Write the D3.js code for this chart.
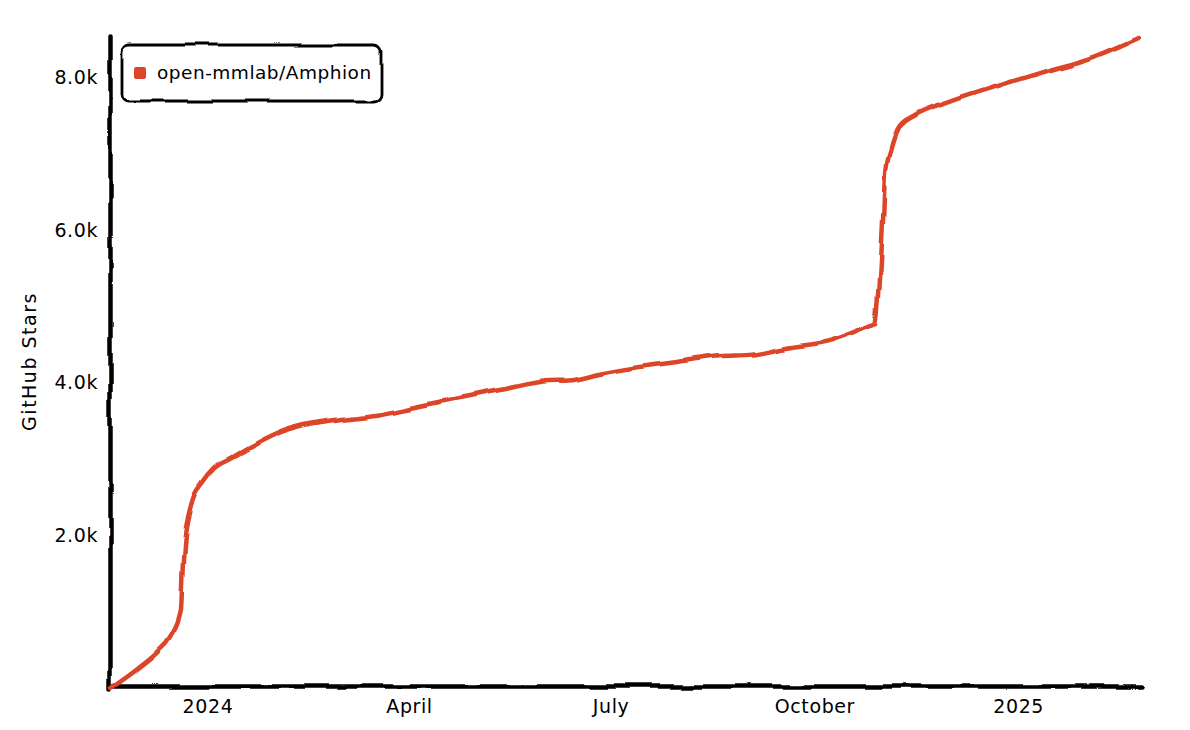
<!DOCTYPE html>
<html>
<head>
<meta charset="utf-8">
<script src="https://cdn.jsdelivr.net/npm/d3@7"></script>
<style>
  html, body { margin: 0; padding: 0; background: #fff; }
  svg { display: block; }
  text { font-family: "DejaVu Sans", sans-serif; fill: #000; }
</style>
</head>
<body>
<svg id="chart" width="1190" height="730"></svg>
<script>
// ---- data ----
const seriesName = "open-mmlab/Amphion";
const dates = [
  "2023-11-18","2023-12-01","2023-12-10","2023-12-15","2023-12-20","2023-12-21",
  "2023-12-22","2023-12-23","2023-12-25","2023-12-30","2024-01-04","2024-01-12",
  "2024-01-23","2024-02-02","2024-02-14","2024-03-05","2024-03-16","2024-04-04",
  "2024-04-19","2024-05-12","2024-06-03","2024-06-12","2024-06-26","2024-07-14",
  "2024-08-02","2024-08-19","2024-09-02","2024-09-17","2024-10-09","2024-10-18",
  "2024-10-27","2024-10-29","2024-10-30","2024-11-01","2024-11-02","2024-11-04",
  "2024-11-08","2024-11-14","2024-12-01","2024-12-20","2025-01-12","2025-02-04",
  "2025-02-24"
];
const stars = [
  0, 275, 498, 668, 1022, 1678,
  2032, 2202, 2440, 2700, 2880, 3020,
  3200, 3342, 3447, 3539, 3578, 3683,
  3775, 3906, 4024, 4030, 4116, 4208,
  4286, 4350, 4370, 4457, 4561, 4653,
  4758, 4784, 5086, 6134, 6790, 7052,
  7353, 7484, 7681, 7865, 8074, 8271,
  8520
];
const yTickValues = [2000, 4000, 6000, 8000];
const yTickLabels = ["2.0k", "4.0k", "6.0k", "8.0k"];
const xTickDates = ["2024-01-01","2024-04-01","2024-07-01","2024-10-01","2025-01-01"];
const xTickLabels = ["2024", "April", "July", "October", "2025"];
const yLabel = "GitHub Stars";
const lineColor = "#dd4528";

// ---- layout ----
const svg = d3.select("#chart");
const parse = d3.utcParse("%Y-%m-%d");
const data = dates.map((d, i) => ({ date: parse(d), value: stars[i] }));

const mLeft = 110, mRight = 1140, mBottom = 688, mTop = 35;

const x = d3.scaleUtc()
  .domain([parse("2023-11-18"), parse("2025-02-25")])
  .range([mLeft, mRight]);
const y = d3.scaleLinear()
  .domain([0, 8560])
  .range([mBottom, mTop]);

// xkcd-style filter
const defs = svg.append("defs");
const f = defs.append("filter").attr("id", "xkcdify")
  .attr("filterUnits", "userSpaceOnUse")
  .attr("color-interpolation-filters", "sRGB")
  .attr("x", -800).attr("y", -800).attr("width", 2800).attr("height", 2400);
f.append("feTurbulence").attr("type", "fractalNoise").attr("baseFrequency", 0.018)
  .attr("numOctaves", 2).attr("seed", 7).attr("result", "noise");
f.append("feDisplacementMap").attr("scale", 8).attr("xChannelSelector", "R")
  .attr("yChannelSelector", "G").attr("in", "SourceGraphic").attr("in2", "noise");

// axes
const xAxis = d3.axisBottom(x)
  .tickValues(xTickDates.map(parse))
  .tickFormat((d, i) => xTickLabels[i])
  .tickSize(0).tickPadding(10);
const yAxis = d3.axisLeft(y)
  .tickValues(yTickValues)
  .tickFormat((d, i) => yTickLabels[i])
  .tickSize(0).tickPadding(12);

const gx = svg.append("g").attr("transform", `translate(0,${mBottom - 2})`).call(xAxis);
const gy = svg.append("g").attr("transform", `translate(${mLeft},0)`).call(yAxis);

[gx, gy].forEach(g => {
  g.select(".domain").attr("stroke", "#000").attr("stroke-width", 4.5)
    .attr("stroke-linecap", "round")
    .attr("filter", "url(#xkcdify)");
  g.selectAll("text").attr("font-size", 19)
    .style("font-family", '"DejaVu Sans", sans-serif')
    .style("letter-spacing", "0.6px")
    .attr("fill", "#000");
});
gx.selectAll("text").attr("dy", "0.9em");

svg.append("text")
  .attr("transform", `translate(30,${(mTop + mBottom) / 2}) rotate(-90)`)
  .attr("text-anchor", "middle")
  .attr("dominant-baseline", "middle")
  .attr("font-size", 19)
  .style("letter-spacing", "1.5px")
  .text(yLabel);

// line
const line = d3.line()
  .x(d => x(d.date))
  .y(d => y(d.value))
  .curve(d3.curveMonotoneX);

svg.append("path")
  .datum(data)
  .attr("d", line)
  .attr("fill", "none")
  .attr("stroke", lineColor)
  .attr("stroke-width", 4.5)
  .attr("stroke-linejoin", "round")
  .attr("stroke-linecap", "round")
  .attr("filter", "url(#xkcdify)");

// legend
const lg = svg.append("g").attr("transform", "translate(122,45)");
lg.append("rect")
  .attr("width", 259).attr("height", 56)
  .attr("rx", 7).attr("ry", 7)
  .attr("fill", "#fff").attr("stroke", "#000").attr("stroke-width", 2.8)
  .attr("filter", "url(#xkcdify)");
lg.append("rect")
  .attr("x", 12).attr("y", 22).attr("width", 12).attr("height", 12)
  .attr("rx", 2).attr("fill", lineColor);
lg.append("text")
  .attr("x", 35).attr("y", 29)
  .attr("dominant-baseline", "middle")
  .attr("font-size", 18.5)
  .style("letter-spacing", "0.5px")
  .text(seriesName);
</script>
</body>
</html>
